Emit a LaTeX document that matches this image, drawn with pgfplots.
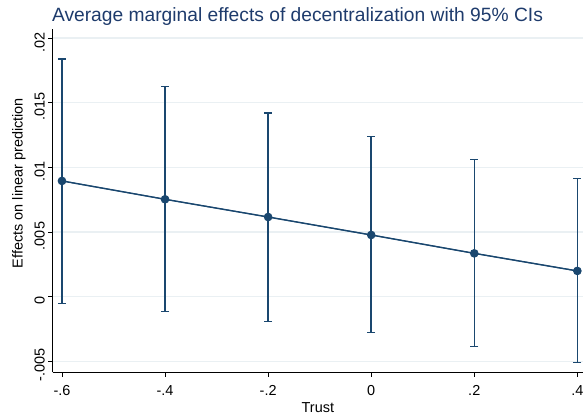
\documentclass[border=0pt]{standalone}
\usepackage{fontspec}
\setmainfont{Liberation Sans}
\usepackage{pgfplots}
\pgfplotsset{compat=1.18}
\definecolor{stnavy}{HTML}{1A476F}
\definecolor{sttitle}{HTML}{1E3B6C}
\definecolor{stgrid}{HTML}{EAF0F3}
\begin{document}
\begin{tikzpicture}[x=1bp,y=1bp]
\path[use as bounding box] (-52.7bp,-42.7bp) rectangle (531.3bp,372.3bp);
\begin{axis}[
  at={(0,0)}, anchor=south west,
  scale only axis, width=530.3bp, height=343.3bp,
  xmin=-0.618, xmax=0.411,
  ymin=-0.00585, ymax=0.0207,
  axis x line*=bottom, axis y line*=left,
  axis line style={line width=0.8bp, black},
  xtick={-0.6,-0.4,-0.2,0,0.2,0.4},
  xticklabels={-.6,-.4,-.2,0,.2,.4},
  ytick={-0.005,0,0.005,0.01,0.015,0.02},
  yticklabels={-.005,0,.005,.01,.015,.02},
  scaled y ticks=false,
  tick align=outside, major tick length=4.5bp,
  tick style={black, line width=0.7bp},
  ymajorgrids, grid style={stgrid, line width=1.2bp},
  xticklabel style={font=\fontsize{14.5}{16}\selectfont, yshift=-5bp},
  yticklabel style={font=\fontsize{14.5}{16}\selectfont, rotate=90, anchor=south, xshift=-4bp},
  xlabel={Trust}, ylabel={Effects on linear prediction},
  xlabel style={font=\fontsize{14.5}{16}\selectfont, yshift=0bp},
  ylabel style={font=\fontsize{14.5}{16}\selectfont, at={(ticklabel cs:0.551)}, yshift=2bp},
  clip=false,
]
\addplot[stnavy, line width=1.4bp, mark=none, forget plot,
  error bars/.cd, y dir=both, y explicit,
  error bar style={stnavy, line width=1.5bp},
  error mark options={stnavy, line width=1.3bp, mark size=4bp, rotate=90}]
  table[x=x, y=y, y error plus=ep, y error minus=em] {
  x     y        ep       em
  -0.6  0.00895  0.00943  0.00946
  -0.4  0.00753  0.00871  0.00869
  -0.2  0.00616  0.00804  0.00806
  0.0   0.00477  0.00760  0.00755
  0.2   0.00335  0.00727  0.00722
  0.4   0.00199  0.00713  0.00709
  };
\addplot[stnavy, line width=1bp, mark=*, mark size=3.8bp,
  mark options={fill=stnavy, draw=stnavy}]
  table[x=x, y=y] {
  x     y
  -0.6  0.00895
  -0.4  0.00753
  -0.2  0.00616
  0.0   0.00477
  0.2   0.00335
  0.4   0.00199
  };
\end{axis}
\node[anchor=base, text=sttitle, font=\fontsize{19.3}{22}\selectfont] at (244.8bp, 350.3bp)
  {Average marginal effects of decentralization with 95\% CIs};
\end{tikzpicture}
\end{document}
